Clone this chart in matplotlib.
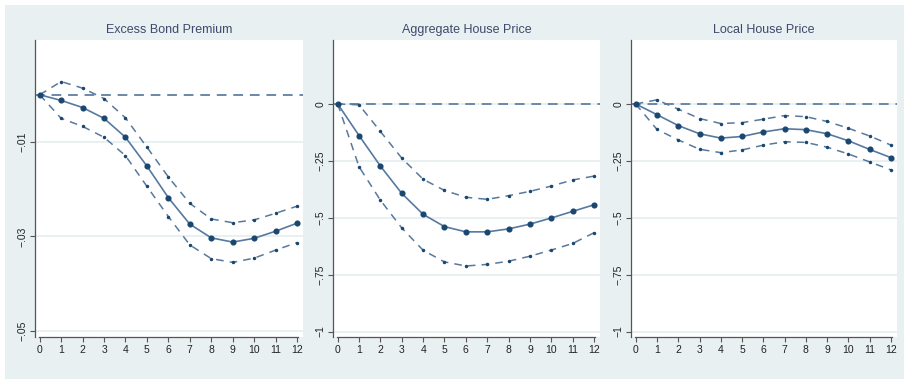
import matplotlib
matplotlib.use("Agg")
import matplotlib.pyplot as plt
from matplotlib.patches import Rectangle
from matplotlib.ticker import FixedLocator

plt.rcParams["font.family"] = ["Liberation Sans", "DejaVu Sans"]

horizon = list(range(13))
x_tick_labels = [str(h) for h in horizon]

titles = ["Excess Bond Premium", "Aggregate House Price", "Local House Price"]

# Excess bond premium response
ebp_point = [0.0, -0.0012, -0.0027, -0.0050, -0.0090, -0.0151, -0.0218,
             -0.0274, -0.0303, -0.0312, -0.0304, -0.0289, -0.0272]
ebp_upper = [0.0, 0.0028, 0.0014, -0.0008, -0.0049, -0.0111, -0.0174,
             -0.0230, -0.0263, -0.0271, -0.0265, -0.0251, -0.0236]
ebp_lower = [0.0, -0.0050, -0.0067, -0.0090, -0.0129, -0.0194, -0.0258,
             -0.0318, -0.0347, -0.0355, -0.0346, -0.0329, -0.0313]

# Aggregate house price response
agg_point = [0.0, -0.139, -0.273, -0.393, -0.485, -0.539, -0.562,
             -0.562, -0.549, -0.528, -0.501, -0.472, -0.443]
agg_upper = [0.0, -0.004, -0.121, -0.238, -0.331, -0.380, -0.410,
             -0.419, -0.403, -0.384, -0.361, -0.334, -0.317]
agg_lower = [0.0, -0.276, -0.423, -0.545, -0.643, -0.694, -0.712,
             -0.705, -0.691, -0.669, -0.642, -0.613, -0.566]

# Local house price response
loc_point = [0.0, -0.047, -0.095, -0.131, -0.150, -0.143, -0.123,
             -0.109, -0.113, -0.131, -0.162, -0.200, -0.236]
loc_upper = [0.0, 0.018, -0.023, -0.064, -0.086, -0.082, -0.067,
             -0.051, -0.056, -0.077, -0.107, -0.141, -0.181]
loc_lower = [0.0, -0.112, -0.158, -0.199, -0.214, -0.202, -0.181,
             -0.166, -0.169, -0.190, -0.220, -0.255, -0.290]

ebp_yticks = [-0.01, -0.03, -0.05]
ebp_yticklabels = ["\u2212.01", "\u2212.03", "\u2212.05"]
hp_yticks = [0, -0.25, -0.5, -0.75, -1]
hp_yticklabels = ["0", "\u2212.25", "\u2212.5", "\u2212.75", "\u22121"]

panels = [
    (titles[0], ebp_point, ebp_upper, ebp_lower, ebp_yticks, ebp_yticklabels, (-0.0513, 0.0116)),
    (titles[1], agg_point, agg_upper, agg_lower, hp_yticks, hp_yticklabels, (-1.024, 0.281)),
    (titles[2], loc_point, loc_upper, loc_lower, hp_yticks, hp_yticklabels, (-1.024, 0.281)),
]

W, H = 907, 383
fig = plt.figure(figsize=(W / 100, H / 100), dpi=100, facecolor="white")

BG = "#e8f0f2"
GRID = "#e8f0f2"
NAVY = "#1a476f"
LINE = "#5679a0"
CI = "#58799c"
ZERO = "#6a88a8"
AXC = "#555555"
TITLE = "#3d4a6b"

# light graph-region background behind the three panels
bg = Rectangle((5 / W, 4 / H), 899 / W, 374 / H, transform=fig.transFigure,
               facecolor=BG, edgecolor="none", zorder=-10)
fig.patches.append(bg)

lefts = [35, 333, 631]
widths = [268, 267, 266]
top, bottom = 40, 337

for (title, pt, up, lo, yt, ytl, ylim), lx, w in zip(panels, lefts, widths):
    ax = fig.add_axes([lx / W, 1 - bottom / H, w / W, (bottom - top) / H])
    ax.set_zorder(1)
    ax.set_facecolor("white")
    ax.set_xlim(-0.22, 12.28)
    ax.set_ylim(*ylim)

    for v in yt:
        ax.axhline(v, color=GRID, lw=1.4, zorder=1)
    ax.axhline(0, color=ZERO, lw=1.4, ls=(0, (5, 3.5)), zorder=2)

    ax.plot(horizon, up, color=CI, lw=1.1, ls=(0, (5, 4)), marker="o",
            markersize=1.5, markerfacecolor=NAVY, markeredgecolor=NAVY, zorder=3)
    ax.plot(horizon, lo, color=CI, lw=1.1, ls=(0, (5, 4)), marker="o",
            markersize=1.5, markerfacecolor=NAVY, markeredgecolor=NAVY, zorder=3)
    ax.plot(horizon, pt, color=LINE, lw=1.2, marker="o", markersize=3.4,
            markerfacecolor=NAVY, markeredgecolor=NAVY, zorder=4)

    ax.xaxis.set_major_locator(FixedLocator(horizon))
    ax.set_xticklabels(x_tick_labels)
    ax.yaxis.set_major_locator(FixedLocator(yt))
    ax.set_yticklabels(ytl, rotation=90, va="center")

    for s in ["top", "right"]:
        ax.spines[s].set_visible(False)
    for s in ["left", "bottom"]:
        ax.spines[s].set_color(AXC)
        ax.spines[s].set_linewidth(0.9)
    ax.spines["bottom"].set_bounds(-0.04, 12.04)

    ax.tick_params(axis="both", direction="out", length=3.5, width=0.8,
                   color=AXC, labelsize=7.5, labelcolor="#222222", pad=2)
    ax.set_title(title, fontsize=9, color=TITLE, pad=5)

fig.savefig("out.png", dpi=100, facecolor=fig.get_facecolor())
